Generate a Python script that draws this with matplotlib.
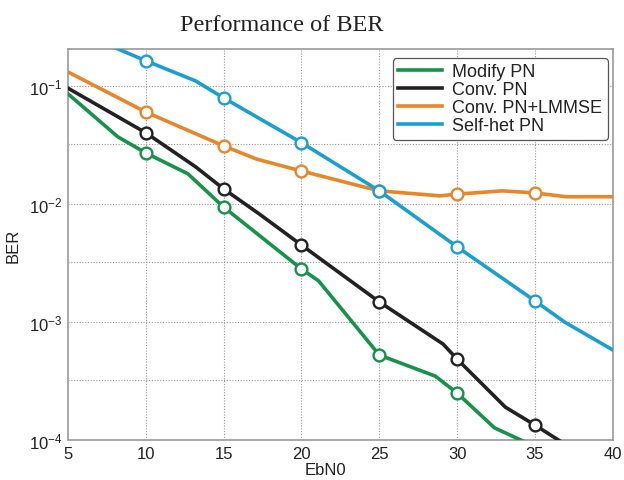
import math
import matplotlib
matplotlib.use("Agg")
import matplotlib.pyplot as plt
from matplotlib.ticker import FixedLocator, NullLocator, FuncFormatter

plt.rcParams['font.family'] = ['Liberation Sans', 'DejaVu Sans']
plt.rcParams['mathtext.fontset'] = 'custom'
plt.rcParams['mathtext.rm'] = 'Liberation Sans'
plt.rcParams['mathtext.it'] = 'Liberation Sans:italic'

# ---- data ----
modify_x = [5, 8.2, 10, 12.7, 15, 20, 21.1, 25, 28.6, 30, 32.4, 35]
modify_y = [0.0855, 0.037, 0.027, 0.018, 0.0094, 0.00281, 0.00223, 0.000525, 0.000348, 0.00025, 0.000127, 0.000088]

conv_x = [5, 10, 13.2, 15, 17.3, 20, 25, 29.1, 30, 33.1, 35, 37]
conv_y = [0.0955, 0.040, 0.0206, 0.0134, 0.0082, 0.00448, 0.00148, 0.00065, 0.000485, 0.00019, 0.000134, 0.000091]

lmmse_x = [5, 10, 15, 17.1, 20, 23.75, 25, 28.9, 30, 32.9, 35, 37, 40]
lmmse_y = [0.131, 0.060, 0.031, 0.024, 0.019, 0.0142, 0.0129, 0.0117, 0.0121, 0.0129, 0.0124, 0.0115, 0.0115]

selfhet_x = [5, 10, 13.2, 15, 20, 25, 30, 35, 36.9, 40]
selfhet_y = [0.31, 0.163, 0.110, 0.079, 0.033, 0.0129, 0.00433, 0.00151, 0.0010, 0.00058]

marker_x = [10, 15, 20, 25, 30, 35]

labels = ['Modify PN', 'Conv. PN', 'Conv. PN+LMMSE', 'Self-het PN']
colors = ['#16924a', '#222222', '#e8862a', '#1b9fd3']

xticks = [5, 10, 15, 20, 25, 30, 35, 40]
yticks = [1e-4, 1e-3, 1e-2, 1e-1]

YMIN, YMAX = 1e-4, 0.205

fig = plt.figure(figsize=(6.24, 4.81), dpi=100)
ax = fig.add_axes([0.109, 0.083, 0.873, 0.813])
ax.set_yscale('log')
ax.set_xlim(5, 40)
ax.set_ylim(YMIN, YMAX)

series = [(modify_x, modify_y), (conv_x, conv_y), (lmmse_x, lmmse_y), (selfhet_x, selfhet_y)]
for (xs, ys), lab, c in zip(series, labels, colors):
    ax.plot(xs, ys, color=c, lw=2.6, label=lab, zorder=3)
    pts = [(x, y) for x, y in zip(xs, ys) if x in marker_x and YMIN <= y <= YMAX]
    ax.plot([p[0] for p in pts], [p[1] for p in pts], ls='none', marker='o', ms=8.5,
            mfc='white', mec=c, mew=1.7, zorder=4)

ax.xaxis.set_major_locator(FixedLocator(xticks))
ax.yaxis.set_major_locator(FixedLocator(yticks))
ax.yaxis.set_minor_locator(NullLocator())
ax.yaxis.set_major_formatter(FuncFormatter(lambda v, p: r'$10^{%d}$' % round(math.log10(v))))
ax.tick_params(axis='both', length=0, labelsize=12, colors='#222222', pad=4)

grid_y = yticks + [3.2e-4, 3.2e-3, 3.2e-2]
for gy in grid_y:
    ax.axhline(gy, color='#999999', lw=0.8, ls=(0, (1, 1.5)), zorder=1)
for gx in xticks[1:-1]:
    ax.axvline(gx, color='#999999', lw=0.8, ls=(0, (1, 1.5)), zorder=1)

for s in ax.spines.values():
    s.set_color('#999999')
    s.set_linewidth(1.2)

ax.set_xlabel('EbN0', fontsize=12, color='#222222')
ax.xaxis.set_label_coords(0.472, -0.055)
ax.set_ylabel('BER', fontsize=12, labelpad=6, color='#222222')
fig.text(0.452, 0.947, 'Performance of BER', family='Liberation Serif', fontsize=17.5,
         ha='center', va='center', color='#222222')

leg = ax.legend(loc='upper right', fontsize=13, handlelength=2.4, labelspacing=0.05,
                borderpad=0.3, handletextpad=0.6, fancybox=True, framealpha=1,
                edgecolor='#555555', bbox_to_anchor=(0.991, 0.977), borderaxespad=0)
leg.get_frame().set_linewidth(0.9)
for t in leg.get_texts():
    t.set_color('#222222')

fig.savefig('out.png', dpi=100)
